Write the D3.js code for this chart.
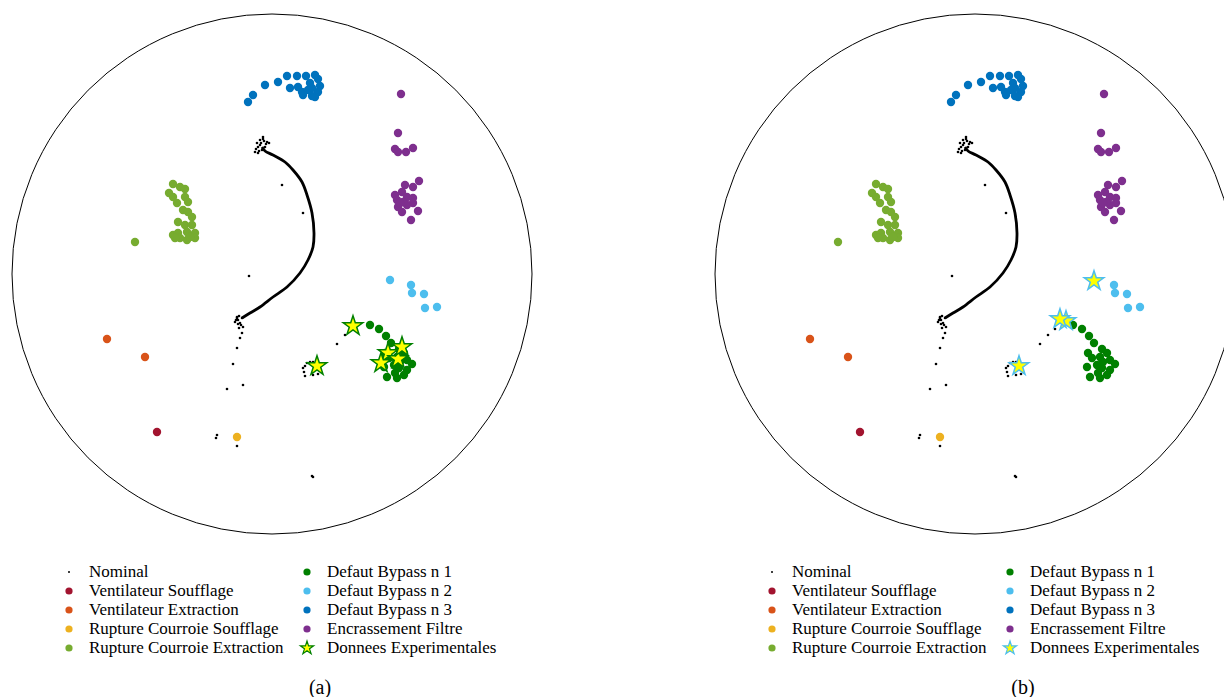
<!DOCTYPE html>
<html><head><meta charset="utf-8">
<script src="https://cdn.jsdelivr.net/npm/d3@7"></script>
<style>body{margin:0;background:#fff;overflow:hidden} svg{display:block}</style>
</head><body>
<script>
// ---- data (unit space: circle of radius 2.6) ----
const nominalCurve = [[-0.10,1.27],[-0.07,1.23],[0.01,1.19],[0.13,1.12],[0.21,1.04],[0.30,0.92],[0.35,0.79],[0.40,0.61],[0.42,0.41],[0.41,0.27],[0.36,0.14],[0.28,0.01],[0.15,-0.13],[0.01,-0.23],[-0.12,-0.33],[-0.22,-0.39],[-0.30,-0.44]];
const nominal = [[-0.09,1.37],[-0.12,1.34],[-0.15,1.31],[-0.05,1.32],[-0.03,1.31],[-0.17,1.22],[-0.14,1.21],[-0.10,1.24],[-0.07,1.27],[-0.12,1.29],[-0.14,1.27],[-0.09,1.35],[-0.08,1.33],[-0.11,1.31],[-0.06,1.30],[-0.16,1.25],[-0.13,1.23],
  [-0.35,-0.43],[-0.34,-0.46],[-0.32,-0.49],[-0.37,-0.48],[-0.30,-0.44],[-0.29,-0.53],[-0.33,-0.54],[-0.30,-0.59],[-0.32,-0.64],[-0.35,-0.44],[-0.33,-0.42],[-0.36,-0.46],[-0.31,-0.51],[-0.34,-0.50],
  [0.10,0.89],[0.31,0.61],[-0.23,-0.02],[-0.35,-0.74],[-0.39,-0.90],[-0.29,-1.11],[-0.45,-1.15],[-0.55,-1.61],[-0.56,-1.64],[-0.35,-1.72],[0.40,-2.02],[0.41,-2.03],
  [0.80,-0.55],[0.73,-0.61],[0.65,-0.70],
  [0.41,-0.88],[0.38,-0.88],[0.35,-0.89],[0.33,-0.92],[0.31,-0.94],[0.32,-0.98],[0.33,-1.02],[0.41,-1.01],[0.46,-1.00]];
const ventilateurSoufflage = [[-1.15,-1.58]];
const ventilateurExtraction = [[-1.65,-0.65],[-1.27,-0.83]];
const ruptureSoufflage = [[-0.35,-1.63]];
const ruptureExtraction = [[-1.37,0.32],[-0.99,0.90],[-0.92,0.87],[-0.87,0.85],[-1.03,0.81],[-0.99,0.77],[-0.87,0.77],[-0.84,0.72],[-0.95,0.71],[-0.89,0.64],[-0.84,0.62],[-0.80,0.57],[-0.94,0.52],[-0.87,0.49],[-0.80,0.49],[-0.99,0.39],[-0.94,0.41],[-0.85,0.42],[-0.77,0.41],[-0.77,0.36],[-0.85,0.34],[-0.92,0.36],[-0.82,0.37],[-0.97,0.36]];
const bypass1 = [[0.98,-0.51],[1.07,-0.55],[1.14,-0.62],[1.19,-0.69],[1.27,-0.75],[1.13,-0.79],[1.32,-0.79],[1.25,-0.83],[1.17,-0.84],[1.35,-0.86],[1.28,-0.88],[1.40,-0.90],[1.12,-0.93],[1.22,-0.91],[1.27,-0.94],[1.35,-0.96],[1.15,-1.03],[1.25,-1.04],[1.32,-1.01],[1.23,-0.99]];
const bypass2 = [[1.18,-0.06],[1.39,-0.11],[1.40,-0.19],[1.52,-0.20],[1.53,-0.34],[1.65,-0.33]];
const bypass3 = [[-0.24,1.72],[-0.19,1.79],[-0.07,1.89],[0.06,1.92],[0.15,1.98],[0.25,1.98],[0.34,1.98],[0.43,1.99],[0.46,1.95],[0.18,1.86],[0.26,1.87],[0.30,1.82],[0.31,1.79],[0.38,1.91],[0.40,1.86],[0.48,1.88],[0.46,1.82],[0.43,1.77],[0.40,1.78],[0.36,1.84]];
const encrassement = [[1.29,1.80],[1.26,1.41],[1.23,1.25],[1.26,1.22],[1.34,1.22],[1.41,1.26],[1.47,0.93],[1.33,0.89],[1.41,0.87],[1.30,0.82],[1.23,0.79],[1.25,0.74],[1.35,0.77],[1.41,0.76],[1.41,0.71],[1.35,0.69],[1.26,0.67],[1.30,0.62],[1.46,0.63],[1.39,0.54],[1.31,0.72],[1.28,0.71]];
const experimentalA = [[1.16,-0.79],[1.09,-0.89],[1.26,-0.85],[1.30,-0.73],[0.81,-0.52],[0.45,-0.92]];
const experimentalB = [[1.19,-0.07],[0.91,-0.47],[0.85,-0.45],[0.44,-0.92]];
const legendLabels = ["Nominal","Ventilateur Soufflage","Ventilateur Extraction","Rupture Courroie Soufflage","Rupture Courroie Extraction","Defaut Bypass n 1","Defaut Bypass n 2","Defaut Bypass n 3","Encrassement Filtre","Donnees Experimentales"];
const panelLabels = ["(a)","(b)"];

const classes = [
  {data: ventilateurSoufflage, color:"#A2142F"},
  {data: ventilateurExtraction, color:"#D95319"},
  {data: ruptureSoufflage, color:"#EDB120"},
  {data: ruptureExtraction, color:"#77AC30"},
  {data: bypass1, color:"#008000"},
  {data: bypass2, color:"#4DBEEE"},
  {data: bypass3, color:"#0072BD"},
  {data: encrassement, color:"#7E2F8E"}
];
const legendColors = ["#000","#A2142F","#D95319","#EDB120","#77AC30","#008000","#4DBEEE","#0072BD","#7E2F8E"];

const W = 1224, H = 697;
const svg = d3.select("body").append("svg").attr("width", W).attr("height", H);
const R = 2.6;
const panels = [
  {left: 12, exp: experimentalA, starStroke: "#008000", label: panelLabels[0]},
  {left: 715, exp: experimentalB, starStroke: "#4DBEEE", label: panelLabels[1]}
];
const font = "'Liberation Serif', 'Times New Roman', serif";

panels.forEach(p => {
  const x = d3.scaleLinear().domain([-R, R]).range([p.left, p.left + 520]);
  const y = d3.scaleLinear().domain([-R, R]).range([534, 14]);
  const g = svg.append("g");
  g.append("circle").attr("cx", x(0)).attr("cy", y(0)).attr("r", x(R) - x(0))
    .attr("fill", "none").attr("stroke", "#000").attr("stroke-width", 1);
  g.append("path").datum(nominalCurve)
    .attr("d", d3.line().x(d => x(d[0])).y(d => y(d[1])).curve(d3.curveCatmullRom))
    .attr("fill", "none").attr("stroke", "#000").attr("stroke-width", 2.8);
  g.selectAll(".nom").data(nominal).join("circle").attr("class","nom")
    .attr("cx", d => x(d[0])).attr("cy", d => y(d[1])).attr("r", 1.3).attr("fill", "#000");
  classes.forEach(c => {
    g.append("g").selectAll("circle").data(c.data).join("circle")
      .attr("cx", d => x(d[0])).attr("cy", d => y(d[1])).attr("r", 4.2).attr("fill", c.color);
  });
  const star = d3.symbol().type(d3.symbolStar).size(118);
  g.append("g").selectAll("path").data(p.exp).join("path")
    .attr("d", star).attr("transform", d => `translate(${x(d[0])},${y(d[1])})`)
    .attr("fill", "#FFFF00").attr("stroke", p.starStroke).attr("stroke-width", 1.5);

  // legend
  const lg = svg.append("g").attr("font-family", font).attr("font-size", 17).attr("fill", "#000");
  legendLabels.forEach((lab, i) => {
    const col = i < 5 ? 0 : 1, row = i % 5;
    const mx = p.left + (col ? 295 : 57), ty = 572 + row * 19;
    const tx = mx + 20;
    if (i === 0) {
      lg.append("circle").attr("cx", mx).attr("cy", ty).attr("r", 1).attr("fill", "#000");
    } else if (i === 9) {
      lg.append("path").attr("d", d3.symbol().type(d3.symbolStar).size(55)())
        .attr("transform", `translate(${mx},${ty})`).attr("fill", "#FFFF00")
        .attr("stroke", p.starStroke).attr("stroke-width", 1.2);
    } else {
      lg.append("circle").attr("cx", mx).attr("cy", ty).attr("r", 3.6).attr("fill", legendColors[i]);
    }
    lg.append("text").attr("x", tx).attr("y", ty + 5).text(lab);
  });
  svg.append("text").attr("x", x(0) + 48).attr("y", 694).attr("text-anchor", "middle")
    .attr("font-family", font).attr("font-size", 20).text(p.label);
});
</script>
</body></html>
